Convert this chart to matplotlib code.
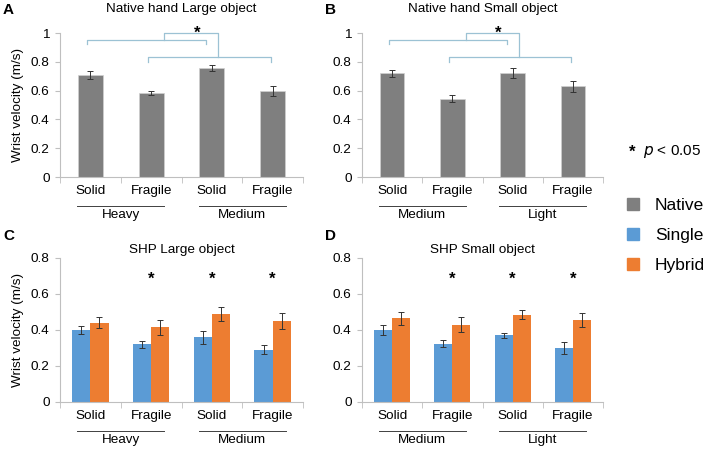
import matplotlib
matplotlib.use('Agg')
import matplotlib.pyplot as plt
import matplotlib.transforms as mtransforms
import numpy as np

plt.rcParams['font.family'] = ['Liberation Sans', 'DejaVu Sans']

# data
conditions = ['Solid', 'Fragile', 'Solid', 'Fragile']
groups_large = ['Heavy', 'Medium']
groups_small = ['Medium', 'Light']

native_large = [0.71, 0.585, 0.755, 0.60]
native_large_err = [0.028, 0.015, 0.02, 0.035]
native_small = [0.72, 0.545, 0.72, 0.63]
native_small_err = [0.025, 0.025, 0.035, 0.04]

single_large = [0.40, 0.32, 0.36, 0.29]
single_large_err = [0.02, 0.02, 0.035, 0.025]
hybrid_large = [0.44, 0.415, 0.49, 0.45]
hybrid_large_err = [0.03, 0.04, 0.04, 0.045]

single_small = [0.40, 0.325, 0.37, 0.30]
single_small_err = [0.027, 0.022, 0.015, 0.035]
hybrid_small = [0.465, 0.43, 0.485, 0.455]
hybrid_small_err = [0.035, 0.04, 0.025, 0.04]

sig_shp = [1, 2, 3]  # conditions with significant Single vs Hybrid difference

GRAY = '#7f7f7f'
BLUE = '#5b9bd5'
ORANGE = '#ed7d31'
SPINE = '#bfbfbf'
BRACKET = '#9cc2d4'
FS = 9.7

W, H = 708, 451
fig = plt.figure(figsize=(W / 100, H / 100), dpi=100)


def px_axes(x0, y0, x1, y1):
    # pixel box (top-left origin) -> figure axes
    return fig.add_axes([x0 / W, 1 - y1 / H, (x1 - x0) / W, (y1 - y0) / H])


def style_axes(ax, ymax, ylabel=None):
    x = np.arange(len(conditions))
    ax.set_xlim(-0.5, 3.5)
    ax.set_ylim(0, ymax)
    ax.set_yticks(np.arange(0, ymax + 0.01, 0.2))
    ax.set_yticklabels([('%g' % v) for v in np.arange(0, ymax + 0.01, 0.2)])
    ax.set_xticks(x)
    ax.set_xticklabels(conditions)
    ax.set_xticks(np.arange(-0.5, 3.6, 1), minor=True)
    ax.tick_params(axis='x', which='major', length=0, pad=6, labelsize=FS)
    ax.tick_params(axis='x', which='minor', length=4, color=SPINE, direction='out')
    ax.tick_params(axis='y', length=3.5, color=SPINE, pad=4, labelsize=FS)
    for s in ['top', 'right']:
        ax.spines[s].set_visible(False)
    for s in ['left', 'bottom']:
        ax.spines[s].set_color(SPINE)
        ax.spines[s].set_linewidth(0.8)
    if ylabel:
        ax.set_ylabel(ylabel, fontsize=FS, labelpad=5)


def group_labels(ax, names):
    trans = mtransforms.blended_transform_factory(ax.transData, ax.transAxes)
    for i, name in enumerate(names):
        c = 2 * i + 0.5
        ax.plot([c - 0.72, c + 0.72], [-0.2, -0.2], color='#404040', lw=0.7,
                transform=trans, clip_on=False)
        ax.text(c, -0.265, name, ha='center', va='center', fontsize=FS,
                transform=trans)


def panel_title(ax, title, py):
    box = ax.get_position()
    fig.text(box.x0 + box.width / 2, 1 - py / H, title, ha='center', va='center',
             fontsize=FS)


def native_panel(ax, vals, errs, title, groups, ylabel=None):
    x = np.arange(len(vals))
    ax.bar(x, vals, width=0.41, color=GRAY, edgecolor='#d0d0d0', linewidth=0.5,
           yerr=errs, error_kw=dict(ecolor='#333333', elinewidth=0.7, capsize=2, capthick=0.7))
    style_axes(ax, 1.0, ylabel)
    panel_title(ax, title, 9)
    group_labels(ax, groups)
    # significance brackets
    kw = dict(color=BRACKET, lw=0.9, clip_on=False)
    ax.plot([-0.05, -0.05, 1.9, 1.9], [0.925, 0.95, 0.95, 0.925], **kw)
    ax.plot([0.95, 0.95, 2.97, 2.97], [0.8, 0.83, 0.83, 0.8], **kw)
    ax.plot([1.22, 1.22, 2.1, 2.1], [0.95, 1.0, 1.0, 0.83], **kw)
    ax.text(1.76, 0.97, '*', ha='center', va='baseline', fontsize=12,
            fontweight='bold', clip_on=False)


def shp_panel(ax, single, single_err, hybrid, hybrid_err, title, groups, ylabel=None):
    x = np.arange(len(single))
    ekw = dict(ecolor='#333333', elinewidth=0.7, capsize=2, capthick=0.7)
    ax.bar(x - 0.15, single, width=0.3, color=BLUE, yerr=single_err, error_kw=ekw)
    ax.bar(x + 0.15, hybrid, width=0.3, color=ORANGE, yerr=hybrid_err, error_kw=ekw)
    style_axes(ax, 0.8, ylabel)
    panel_title(ax, title, 250)
    group_labels(ax, groups)
    for i in sig_shp:
        ax.text(i, 0.655, '*', ha='center', va='baseline', fontsize=12, fontweight='bold')


axA = px_axes(60, 33, 303, 177)
axB = px_axes(362, 33, 603, 177)
axC = px_axes(60, 258, 303, 402)
axD = px_axes(362, 258, 603, 402)

native_panel(axA, native_large, native_large_err, 'Native hand Large object',
             groups_large, 'Wrist velocity (m/s)')
native_panel(axB, native_small, native_small_err, 'Native hand Small object',
             groups_small)
shp_panel(axC, single_large, single_large_err, hybrid_large, hybrid_large_err,
          'SHP Large object', groups_large, 'Wrist velocity (m/s)')
shp_panel(axD, single_small, single_small_err, hybrid_small, hybrid_small_err,
          'SHP Small object', groups_small)

for letter, (px, py) in zip('ABCD', [(3, 10), (325, 10), (3, 236), (325, 236)]):
    fig.text(px / W, 1 - py / H, letter, fontsize=11, fontweight='bold',
             ha='left', va='center')

fig.text(629 / W, 1 - 157 / H, '*', fontsize=12, fontweight='bold', ha='left', va='baseline')
fig.text(643 / W, 1 - 152 / H, '$\\it{p}$ < 0.05', fontsize=11, ha='left', va='center')

handles = [plt.Rectangle((0, 0), 1, 1, color=c) for c in (GRAY, BLUE, ORANGE)]
fig.legend(handles, ['Native', 'Single', 'Hybrid'], loc='upper left',
           bbox_to_anchor=(627 / W, 1 - 198 / H), frameon=False, fontsize=12.5,
           handlelength=0.7, handleheight=0.7, handletextpad=0.9, labelspacing=0.85,
           borderpad=0, borderaxespad=0)

fig.savefig('out.png', dpi=100)
